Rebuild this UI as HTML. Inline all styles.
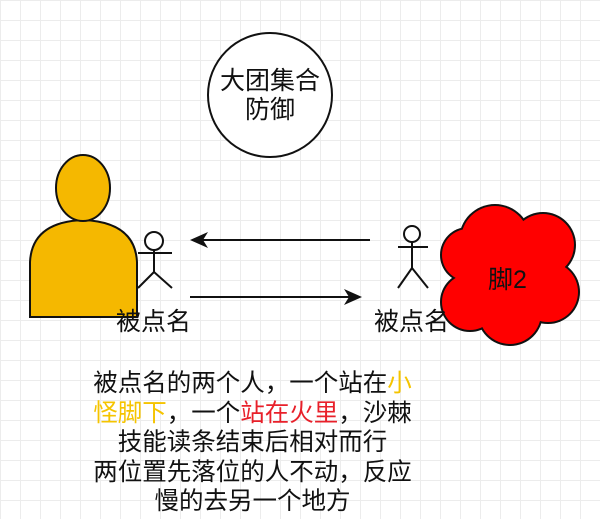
<!DOCTYPE html>
<html><head><meta charset="utf-8"><style>
html,body{margin:0;padding:0;background:#fff}
body{width:600px;height:519px;overflow:hidden;position:relative;
background-image:linear-gradient(#ececec 1px,transparent 1px),linear-gradient(90deg,#ececec 1px,transparent 1px);background-size:20px 20px}
.t{position:absolute;font-family:"Liberation Sans","Noto Sans CJK SC",sans-serif;color:#111;white-space:nowrap}
</style></head><body>
<svg width="600" height="519" style="position:absolute;left:0;top:0">
<circle cx="270" cy="95" r="62" fill="#fff" stroke="#111" stroke-width="2"/>
<path d="M30,317 L30,262 Q32,222 83,220 Q135,222 137,262 L137,317 Z" fill="#f5b800" stroke="#111" stroke-width="2"/>
<ellipse cx="83" cy="188" rx="27" ry="33" fill="#f5b800" stroke="#111" stroke-width="2"/>
<g stroke="#111" stroke-width="2" fill="none">
<circle cx="154" cy="241" r="9" fill="#fff"/>
<line x1="154" y1="250" x2="154" y2="272"/><line x1="138" y1="253" x2="172" y2="253"/>
<line x1="154" y1="272" x2="138" y2="288"/><line x1="154" y1="272" x2="172" y2="288"/>
<circle cx="412" cy="234" r="8" fill="#fff"/>
<line x1="412" y1="242" x2="412" y2="268"/><line x1="398" y1="247" x2="428" y2="247"/>
<line x1="412" y1="268" x2="398" y2="288"/><line x1="412" y1="268" x2="428" y2="288"/>
<line x1="370" y1="240" x2="198" y2="240"/>
<line x1="190" y1="297" x2="354" y2="297"/>
</g>
<path d="M190,240 L208,232 L203,240 L208,248 Z" fill="#111"/>
<path d="M362,297 L344,289 L349,297 L344,305 Z" fill="#111"/>
<g fill="#111">
<circle cx="495" cy="240" r="36"/><circle cx="543" cy="245" r="33"/><circle cx="548" cy="292" r="32"/>
<circle cx="510" cy="313" r="33"/><circle cx="470" cy="302" r="30"/><circle cx="468" cy="255" r="28"/><circle cx="508" cy="275" r="45"/>
</g>
<g fill="#f00">
<circle cx="495" cy="240" r="34"/><circle cx="543" cy="245" r="31"/><circle cx="548" cy="292" r="30"/>
<circle cx="510" cy="313" r="31"/><circle cx="470" cy="302" r="28"/><circle cx="468" cy="255" r="26"/><circle cx="508" cy="275" r="45"/>
</g>
</svg>
<div class="t" style="left:210px;top:67px;width:120px;text-align:center;font-size:25px;line-height:29px">大团集合<br>防御</div>
<div class="t" style="left:116px;top:302px;font-size:25px">被点名</div>
<div class="t" style="left:374px;top:302px;font-size:25px">被点名</div>
<div class="t" style="left:488px;top:260px;font-size:25px">脚2</div>
<div class="t" style="left:40px;top:369px;width:425px;text-align:center;font-size:24.5px;line-height:29.5px">被点名的两个人，一个站在<span style="color:#f5c400">小</span><br><span style="color:#f5c400">怪脚下</span>，一个<span style="color:#e8202a">站在火里</span>，沙棘<br>技能读条结束后相对而行<br>两位置先落位的人不动，反应<br>慢的去另一个地方</div>
</body></html>
